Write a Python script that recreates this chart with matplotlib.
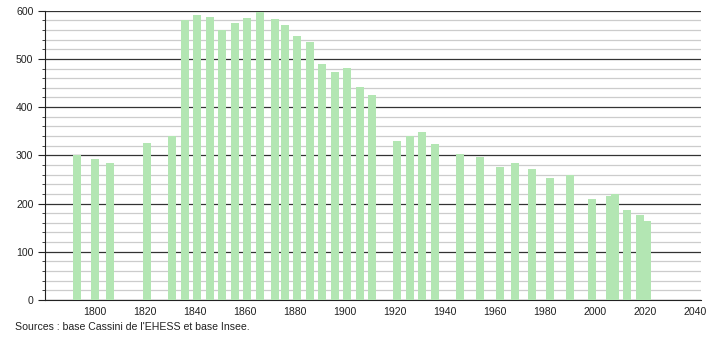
import matplotlib
matplotlib.use("Agg")
import matplotlib.pyplot as plt
from matplotlib.ticker import MultipleLocator

# census years and population
years = [1793, 1800, 1806, 1821, 1831, 1836, 1841, 1846, 1851, 1856,
         1861, 1866, 1872, 1876, 1881, 1886, 1891, 1896, 1901, 1906,
         1911, 1921, 1926, 1931, 1936, 1946, 1954, 1962, 1968, 1975,
         1982, 1990, 1999, 2006, 2008, 2013, 2018, 2021]
population = [300, 292, 284, 325, 340, 580, 591, 587, 559, 574,
              585, 597, 583, 570, 547, 535, 489, 473, 481, 442,
              425, 330, 340, 348, 323, 303, 297, 276, 284, 272,
              253, 259, 209, 216, 219, 187, 176, 164]
x_ticks = [1800, 1820, 1840, 1860, 1880, 1900, 1920, 1940, 1960, 1980, 2000, 2020, 2040]
source_text = "Sources : base Cassini de l'EHESS et base Insee."

plt.rcParams['font.family'] = ['Liberation Sans', 'DejaVu Sans']

fig = plt.figure(figsize=(7.1, 3.4), dpi=100)
ax = fig.add_axes([44.5 / 710, 40 / 340, (701 - 44.5) / 710, (300 - 10.7) / 340])

ax.bar(years, population, width=3.2, color='#b3e6b3', zorder=3)

ax.set_xlim(1780, 2042.5)
ax.set_ylim(0, 600)
ax.set_xticks(x_ticks)
ax.yaxis.set_major_locator(MultipleLocator(100))
ax.yaxis.set_minor_locator(MultipleLocator(20))

# grid: dark major, light minor
ax.grid(axis='y', which='major', color='#333333', linewidth=0.9, zorder=1)
ax.grid(axis='y', which='minor', color='#cccccc', linewidth=0.9, zorder=1)
ax.set_axisbelow(True)

for s in ['top', 'right']:
    ax.spines[s].set_visible(False)
ax.spines['left'].set_color('#222222')
ax.spines['bottom'].set_color('#222222')

ax.tick_params(axis='y', which='major', length=5, width=0.8, pad=3, labelsize=7.6, colors='#222222')
ax.tick_params(axis='y', which='minor', length=2.5, width=0.6, colors='#222222')
ax.tick_params(axis='x', length=0, pad=5, labelsize=7.6, colors='#222222')

fig.text(15 / 710, 1 - 327 / 340, source_text, fontsize=7.6, color='#222222', va='center')

fig.savefig('out.png', dpi=100)
